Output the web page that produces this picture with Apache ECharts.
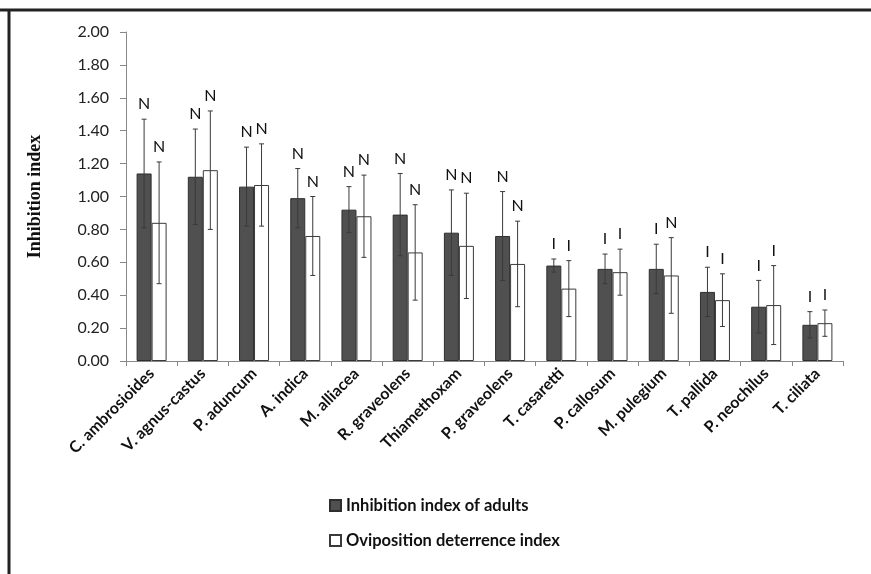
<!DOCTYPE html>
<html>
<head>
<meta charset="utf-8">
<script src="https://cdn.jsdelivr.net/npm/echarts@6/dist/echarts.min.js"></script>
<style>
  html, body { margin: 0; padding: 0; background: #fff; }
  #chart { width: 871px; height: 574px; }
</style>
</head>
<body>
<div id="chart"></div>
<script>
const categories = ['C. ambrosioides', 'V. agnus-castus', 'P. aduncum', 'A. indica', 'M. alliacea',
  'R. graveolens', 'Thiamethoxam', 'P. graveolens', 'T. casaretti', 'P. callosum',
  'M. pulegium', 'T. pallida', 'P. neochilus', 'T. ciliata'];

// Inhibition index of adults
const adults = [1.14, 1.12, 1.06, 0.99, 0.92, 0.89, 0.78, 0.76, 0.58, 0.56, 0.56, 0.42, 0.33, 0.22];
const adultsLow = [0.81, 0.83, 0.82, 0.81, 0.78, 0.64, 0.52, 0.49, 0.54, 0.47, 0.41, 0.27, 0.17, 0.14];
const adultsHigh = [1.47, 1.41, 1.30, 1.17, 1.06, 1.14, 1.04, 1.03, 0.62, 0.65, 0.71, 0.57, 0.49, 0.30];
const adultsLetter = ['N', 'N', 'N', 'N', 'N', 'N', 'N', 'N', 'I', 'I', 'I', 'I', 'I', 'I'];

// Oviposition deterrence index
const ovip = [0.84, 1.16, 1.07, 0.76, 0.88, 0.66, 0.70, 0.59, 0.44, 0.54, 0.52, 0.37, 0.34, 0.23];
const ovipLow = [0.47, 0.80, 0.82, 0.52, 0.63, 0.37, 0.38, 0.33, 0.27, 0.40, 0.29, 0.21, 0.10, 0.15];
const ovipHigh = [1.21, 1.52, 1.32, 1.00, 1.13, 0.95, 1.02, 0.85, 0.61, 0.68, 0.75, 0.53, 0.58, 0.31];
const ovipLetter = ['N', 'N', 'N', 'N', 'N', 'N', 'N', 'N', 'I', 'I', 'N', 'I', 'I', 'I'];

const BAR_W = 15;

function errorSeries(low, high, letters, shift) {
  return {
    type: 'custom',
    z: 5,
    silent: true,
    encode: { x: 0, y: [1, 2] },
    data: categories.map((c, i) => [i, low[i], high[i]]),
    renderItem: function (params, api) {
      const top = api.coord([api.value(0), api.value(2)]);
      const bot = api.coord([api.value(0), api.value(1)]);
      const x = top[0] + shift;
      const cap = 2.5;
      const st = { stroke: '#3a3a3a', lineWidth: 1 };
      return {
        type: 'group',
        children: [
          { type: 'line', shape: { x1: x, y1: top[1], x2: x, y2: bot[1] }, style: st },
          { type: 'line', shape: { x1: x - cap, y1: top[1], x2: x + cap, y2: top[1] }, style: st },
          { type: 'line', shape: { x1: x - cap, y1: bot[1], x2: x + cap, y2: bot[1] }, style: st },
          {
            type: 'text',
            style: {
              x: x, y: top[1] - 7,
              text: letters[params.dataIndex],
              align: 'center', verticalAlign: 'bottom',
              font: '16px Lato', fill: '#111'
            }
          }
        ]
      };
    }
  };
}

const chart = echarts.init(document.getElementById('chart'), null, { renderer: 'canvas' });

const option = {
  backgroundColor: '#fff',
  animation: false,
  graphic: [
    { type: 'line', shape: { x1: 0, y1: 10, x2: 871, y2: 10 }, style: { stroke: '#222', lineWidth: 3 } },
    { type: 'line', shape: { x1: 9, y1: 10, x2: 9, y2: 574 }, style: { stroke: '#222', lineWidth: 3 } }
  ],
  grid: { left: 126, right: 28, top: 32, bottom: 213 },
  legend: {
    orient: 'vertical',
    left: 324,
    top: 492,
    itemWidth: 11,
    itemHeight: 11,
    itemGap: 18,
    icon: 'rect',
    textStyle: { fontFamily: 'Lato', fontWeight: 'bold', fontSize: 16.5, color: '#111' },
    data: ['Inhibition index of adults', 'Oviposition deterrence index']
  },
  xAxis: {
    type: 'category',
    data: categories,
    axisLine: { lineStyle: { color: '#888', width: 1 } },
    axisTick: { show: true, length: 5, lineStyle: { color: '#888' } },
    axisLabel: {
      rotate: 45, margin: 10, interval: 0,
      fontFamily: 'Lato', fontWeight: 'bold', fontSize: 16, color: '#111'
    }
  },
  yAxis: {
    type: 'value',
    min: 0, max: 2, interval: 0.2,
    name: 'Inhibition index',
    nameLocation: 'middle',
    nameGap: 82,
    nameRotate: 90,
    nameTextStyle: { fontFamily: 'Liberation Serif', fontWeight: 'bold', fontSize: 18, color: '#111' },
    axisLine: { show: true, lineStyle: { color: '#888', width: 1 } },
    axisTick: { show: true, length: 6, lineStyle: { color: '#888' } },
    splitLine: { show: false },
    axisLabel: {
      margin: 17,
      formatter: v => v.toFixed(2),
      fontFamily: 'Lato', fontSize: 16, color: '#222'
    }
  },
  series: [
    {
      name: 'Inhibition index of adults',
      type: 'bar',
      barWidth: BAR_W,
      barGap: '0%',
      data: adults,
      itemStyle: { color: '#505050', borderColor: '#2e2e2e', borderWidth: 1 }
    },
    {
      name: 'Oviposition deterrence index',
      type: 'bar',
      barWidth: BAR_W,
      barGap: '0%',
      data: ovip,
      itemStyle: { color: '#ffffff', borderColor: '#3a3a3a', borderWidth: 1 }
    },
    errorSeries(adultsLow, adultsHigh, adultsLetter, -BAR_W / 2),
    errorSeries(ovipLow, ovipHigh, ovipLetter, BAR_W / 2)
  ]
};

chart.setOption(option);
</script>
</body>
</html>
